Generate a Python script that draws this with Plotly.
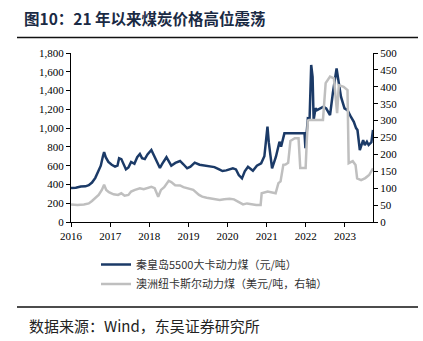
import plotly.graph_objects as go

qhd_dates = ["2016-01-01","2016-02-15","2016-04-01","2016-05-15","2016-06-15","2016-07-15","2016-08-15","2016-09-15","2016-10-05","2016-10-25","2016-11-05","2016-11-20","2016-12-15",
"2017-01-15","2017-02-15","2017-03-10","2017-03-25","2017-04-15","2017-05-10","2017-05-28","2017-06-20","2017-07-15","2017-08-15","2017-09-10","2017-10-05","2017-10-25","2017-11-20","2017-12-15",
"2018-01-20","2018-02-10","2018-03-10","2018-04-10","2018-05-01","2018-06-10","2018-07-05","2018-07-25","2018-09-01","2018-10-15","2018-11-15","2018-12-20",
"2019-01-20","2019-03-01","2019-04-15","2019-06-01","2019-07-20","2019-09-01","2019-10-15","2019-11-15","2019-12-20",
"2020-01-20","2020-02-20","2020-03-20","2020-04-15","2020-05-15","2020-06-10","2020-07-10","2020-08-10","2020-08-25","2020-10-01","2020-11-10","2020-12-10","2020-12-25",
"2021-01-08","2021-01-20","2021-02-10","2021-02-20","2021-03-28","2021-04-30","2021-05-15","2021-06-15","2021-12-20","2021-12-28",
"2022-01-20","2022-02-05","2022-02-20","2022-03-05","2022-03-15","2022-04-01","2022-04-15","2022-05-01","2022-06-15","2022-07-10","2022-08-15","2022-09-10","2022-10-15","2022-11-10","2022-11-25","2022-12-28",
"2023-01-25","2023-02-25","2023-03-25","2023-04-15","2023-04-28","2023-05-20","2023-06-20","2023-07-05","2023-07-25","2023-08-10","2023-09-05","2023-09-20"]
qhd_values = [362,365,378,380,392,420,470,560,600,700,745,690,640,
610,590,600,680,670,600,560,580,640,620,690,724,680,670,720,
767,720,640,575,620,690,640,600,630,650,615,572,
590,632,610,600,589,585,560,543,550,
565,572,560,500,465,540,589,560,546,600,625,700,880,
1015,850,620,572,695,855,802,944,944,785,
1105,1100,1672,1547,1086,1211,1192,1200,1228,1210,1139,1371,1636,1442,1335,1211,
1192,1121,1068,1000,980,767,873,820,855,820,850,980]

nc_dates = ["2016-01-01","2016-03-01","2016-05-01","2016-06-15","2016-07-15","2016-08-15","2016-09-15","2016-10-15","2016-11-05","2016-11-25","2016-12-20",
"2017-02-01","2017-03-15","2017-04-15","2017-05-15","2017-06-20","2017-07-15","2017-08-20","2017-10-05","2017-11-10","2017-12-20",
"2018-01-20","2018-02-20","2018-03-25","2018-04-20","2018-05-20","2018-07-01","2018-07-25","2018-08-30","2018-10-15","2018-11-15",
"2019-01-10","2019-02-15","2019-04-10","2019-05-10","2019-06-20","2019-07-20","2019-09-01","2019-10-20","2019-12-01",
"2020-01-20","2020-03-01","2020-04-15","2020-05-25","2020-07-01","2020-08-15","2020-09-25","2020-11-05","2020-11-15",
"2021-01-10","2021-02-20","2021-03-25","2021-04-20","2021-05-10","2021-06-05","2021-06-25","2021-07-20","2021-08-10","2021-09-20","2021-10-25","2021-11-10","2021-12-30",
"2022-01-10","2022-01-20","2022-02-01","2022-06-10","2022-07-05","2022-08-15","2022-09-20","2022-10-20","2022-11-05","2022-12-20",
"2023-01-25","2023-02-05","2023-03-15","2023-04-10","2023-04-25","2023-06-01","2023-07-10","2023-08-15","2023-09-20"]
nc_values = [52,50,52,55,62,70,80,95,110,95,88,
82,80,85,78,80,90,95,100,97,100,
104,100,75,95,103,122,118,109,108,103,
97,95,80,75,72,70,68,65,67,
69,67,60,52,55,52,50,50,85,
90,88,85,115,120,169,170,175,240,248,248,160,160,
240,300,302,302,411,430,425,322,405,400,
390,174,180,169,129,124,130,139,159]

qhd_name = "秦皇岛5500大卡动力煤（元/吨）"
nc_name = "澳洲纽卡斯尔动力煤（美元/吨，右轴）"
left_ticks = list(range(0, 1801, 200))
right_ticks = list(range(0, 501, 50))
year_ticks = [f"{y}-01-01" for y in range(2016, 2024)]
year_labels = [str(y) for y in range(2016, 2024)]

BLUE = "#1b3a67"
GRAY = "#bfbfbf"
SERIF = "Liberation Serif, Times New Roman, serif"
CJK = "Noto Sans CJK SC"

fig = go.Figure()
fig.add_trace(go.Scatter(x=nc_dates, y=nc_values, name=nc_name, yaxis="y2", mode="lines",
                         line=dict(color=GRAY, width=2.5), legend="legend2", showlegend=True))
fig.add_trace(go.Scatter(x=qhd_dates, y=qhd_values, name=qhd_name, mode="lines",
                         line=dict(color=BLUE, width=2.5), legend="legend", showlegend=True))

L, R, T, B = 71, 373, 53, 222
W, H = 423, 341
pw, ph = R - L, B - T
def px(x): return (x - L) / pw
def py(y): return (B - y) / ph

axis_common = dict(showgrid=False, zeroline=False, showline=True, linecolor="#000", linewidth=1,
                   ticks="outside", ticklen=4, tickcolor="#000",
                   tickfont=dict(family=SERIF, size=11, color="#000"))

fig.update_layout(
    width=W, height=H, margin=dict(l=L, r=W - R, t=T, b=H - B),
    paper_bgcolor="white", plot_bgcolor="white", showlegend=True,
    xaxis=dict(range=["2016-01-01", "2023-09-20"], tickvals=year_ticks, ticktext=year_labels, **axis_common),
    yaxis=dict(range=[0, 1800], tickvals=left_ticks, tickformat=",", **axis_common),
    yaxis2=dict(range=[0, 500], tickvals=right_ticks, overlaying="y", side="right", **axis_common),
    legend=dict(x=px(96), y=py(250), xanchor="left", yanchor="top", bgcolor="rgba(0,0,0,0)",
                font=dict(family=CJK, size=11, color="#333"), itemwidth=30, visible=True),
    legend2=dict(x=px(96), y=py(269.5), xanchor="left", yanchor="top", bgcolor="rgba(0,0,0,0)",
                 font=dict(family=CJK, size=11, color="#333"), itemwidth=30, visible=True),
    shapes=[
        dict(type="line", xref="paper", yref="paper", x0=px(17), x1=px(418), y0=py(37.5), y1=py(37.5),
             line=dict(color="#111", width=1.5)),
        dict(type="line", xref="paper", yref="paper", x0=px(17), x1=px(418), y0=py(307), y1=py(307),
             line=dict(color="#111", width=1.5)),
    ],
    annotations=[
        dict(text="<b>图10：21 年以来煤炭价格高位震荡</b>", xref="paper", yref="paper",
             x=px(22), y=py(18), xanchor="left", yanchor="middle", showarrow=False,
             font=dict(family=CJK, size=15.5, color="#1a2a44")),
        dict(text="数据来源：Wind，东吴证券研究所", xref="paper", yref="paper",
             x=px(27), y=py(325), xanchor="left", yanchor="middle", showarrow=False,
             font=dict(family=CJK, size=15, color="#222")),
    ],
)

fig.write_html("out.html")
